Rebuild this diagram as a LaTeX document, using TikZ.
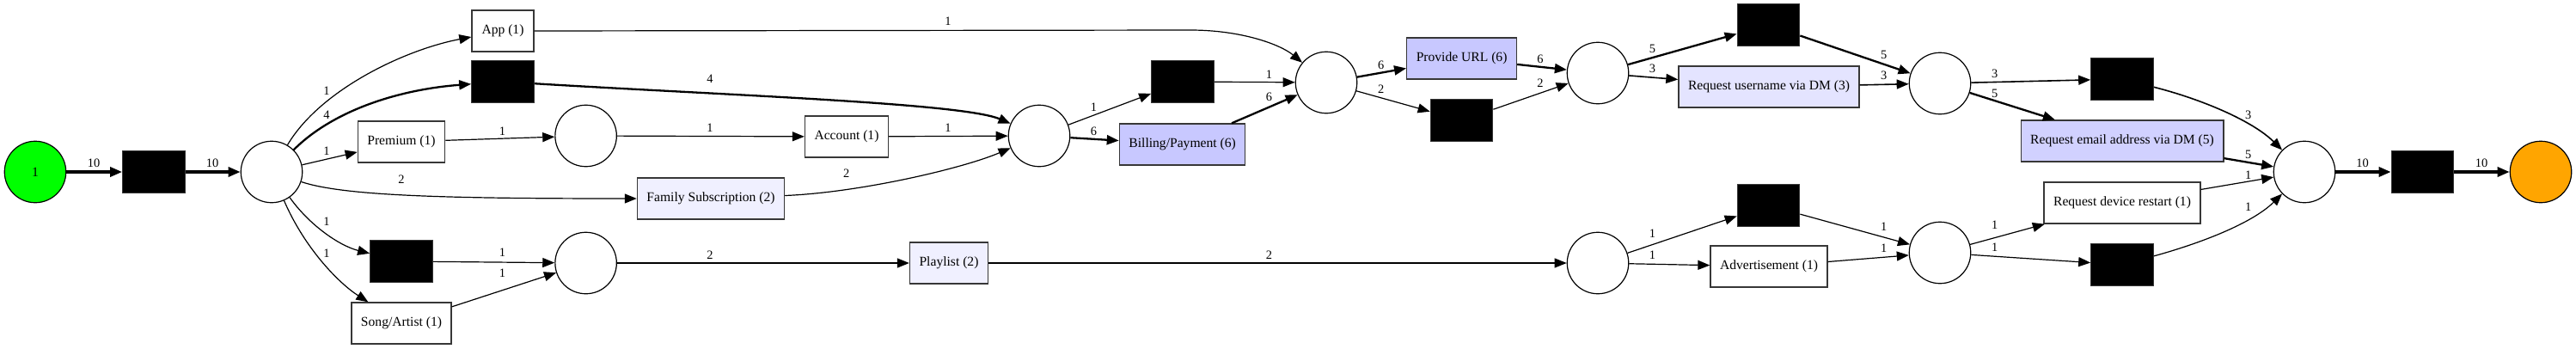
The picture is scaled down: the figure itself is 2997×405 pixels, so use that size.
\documentclass[tikz,border=0pt]{standalone}
\usepackage{fontspec}
\setmainfont{Liberation Serif}
\usetikzlibrary{arrows.meta}
\definecolor{fsix}{RGB}{200,200,255}
\definecolor{ffive}{RGB}{209,209,255}
\definecolor{fthree}{RGB}{228,228,255}
\definecolor{ftwo}{RGB}{240,240,255}
\definecolor{bgray}{RGB}{55,55,55}
\definecolor{srcgreen}{RGB}{0,255,0}
\definecolor{sinkorange}{RGB}{255,165,0}
\newcommand\myNodeFont{\fontsize{15.6}{18}\selectfont}
\newcommand\myLabFont{\fontsize{14.4}{16}\selectfont}
\tikzset{
  place/.style={circle,draw=black,line width=1.2pt,minimum size=71.5pt,inner sep=0pt,font=\myNodeFont},
  trans/.style={rectangle,draw=bgray,line width=1.4pt,minimum width=72pt,minimum height=48pt,inner xsep=11pt,inner ysep=0pt,font=\myNodeFont},
  silent/.style={rectangle,draw=bgray,fill=black,line width=1.2pt,minimum width=72.5pt,minimum height=48.5pt,inner sep=0pt},
  arc/.style={-{Triangle[length=14pt,width=11pt]},line width=1.2pt},
  arcM/.style={arc,line width=1.6pt},
  arcT/.style={arc,line width=2.3pt},
  arcX/.style={arc,line width=3.3pt},
  lab/.style={font=\myLabFont,inner sep=0pt}
}
\begin{document}
\begin{tikzpicture}[x=1pt,y=-1pt]
\useasboundingbox (0,0) rectangle (2997,405);
% nodes
\node[place,fill=srcgreen] (src) at (41,200) {1};
\node[silent] (b1) at (179,200) {};
\node[place] (p1) at (316,200) {};
\node[trans] (app) at (585,36) {App (1)};
\node[silent] (b2) at (585,95) {};
\node[trans] (prem) at (467,165) {Premium (1)};
\node[trans,fill=ftwo] (fam) at (827,231) {Family Subscription (2)};
\node[silent] (b3) at (467,304) {};
\node[trans] (song) at (467,376) {Song/Artist (1)};
\node[place] (p2) at (681.6,158) {};
\node[place] (p3) at (681.6,306) {};
\node[trans] (acc) at (985,159) {Account (1)};
\node[place] (p4) at (1209,158) {};
\node[silent] (b4) at (1376,95) {};
\node[trans,fill=fsix] (bill) at (1375.6,168) {Billing/Payment (6)};
\node[trans,fill=ftwo] (play) at (1104,306) {Playlist (2)};
\node[place] (p5) at (1543,96) {};
\node[trans,fill=fsix] (url) at (1700.6,68) {Provide URL (6)};
\node[silent] (b5) at (1700.5,140) {};
\node[place] (p6) at (1859,85) {};
\node[silent] (b6) at (2057.5,29) {};
\node[trans,fill=fthree] (ruser) at (2058,101) {Request username via DM (3)};
\node[place] (p7) at (1859,306) {};
\node[silent] (b7) at (2057.5,239) {};
\node[trans] (adv) at (2058,310) {Advertisement (1)};
\node[place] (p8) at (2257,97) {};
\node[silent] (b8) at (2469,92) {};
\node[trans,fill=ffive] (remail) at (2469,164) {Request email address via DM (5)};
\node[trans] (rdev) at (2469,236) {Request device restart (1)};
\node[place] (p9) at (2257,294) {};
\node[silent] (b9) at (2469,308) {};
\node[place] (p10) at (2681,200) {};
\node[silent] (b10) at (2818.5,200) {};
\node[place,fill=sinkorange] (sink) at (2956,200) {};
% arcs
\draw[arcX] (src) -- (b1) node[lab] at (109,190) {10};
\draw[arcX] (b1) -- (p1) node[lab] at (247,190) {10};
\draw[arc] (p1) .. controls (372,105) and (470,58) .. (app) node[lab] at (380,106) {1};
\draw[arcT] (p1) .. controls (388,128) and (465,104) .. (b2) node[lab] at (380,134) {4};
\draw[arc] (p1) -- (prem) node[lab] at (380,176) {1};
\draw[arc] (p1) .. controls (400,228) and (520,231) .. (fam) node[lab] at (467,209) {2};
\draw[arc] (p1) .. controls (360,262) and (395,286) .. (b3) node[lab] at (380,258) {1};
\draw[arc] (p1) .. controls (355,290) and (395,330) .. (song) node[lab] at (380,295) {1};
\draw[arc] (app.east) -- (1385,35) .. controls (1445,35) and (1490,52) .. (p5) node[lab] at (1103,25) {1};
\draw[arcT] (b2) .. controls (850,111) and (1120,120) .. (p4) node[lab] at (826,92) {4};
\draw[arc] (prem) -- (p2) node[lab] at (584.5,153) {1};
\draw[arc] (p2) -- (acc) node[lab] at (826,149) {1};
\draw[arc] (acc) -- (p4) node[lab] at (1103,149) {1};
\draw[arc] (fam) .. controls (1000,224) and (1120,196) .. (p4) node[lab] at (984.6,202) {2};
\draw[arc] (b3) -- (p3) node[lab] at (584.5,294) {1};
\draw[arc] (song) -- (p3) node[lab] at (584.5,318) {1};
\draw[arc] (p3) -- (play) node[lab] at (826,297) {2};
\draw[arc] (p4) -- (b4) node[lab] at (1272.5,125) {1};
\draw[arcT] (p4) -- (bill) node[lab] at (1272.5,153) {6};
\draw[arc] (b4) -- (p5) node[lab] at (1476.5,87) {1};
\draw[arcT] (bill) -- (p5) node[lab] at (1476.5,113) {6};
\draw[arcT] (p5) -- (url) node[lab] at (1606.6,76) {6};
\draw[arc] (p5) -- (b5) node[lab] at (1606.6,104) {2};
\draw[arcT] (url) -- (p6) node[lab] at (1792,69) {6};
\draw[arc] (b5) -- (p6) node[lab] at (1792,97) {2};
\draw[arcT] (p6) -- (b6) node[lab] at (1922.4,57) {5};
\draw[arcM] (p6) -- (ruser) node[lab] at (1922.4,80) {3};
\draw[arc] (play) -- (p7) node[lab] at (1476.5,297) {2};
\draw[arc] (p7) -- (b7) node[lab] at (1922.4,272) {1};
\draw[arc] (p7) -- (adv) node[lab] at (1922.4,297) {1};
\draw[arcT] (b6) -- (p8) node[lab] at (2191.6,64) {5};
\draw[arcM] (ruser) -- (p8) node[lab] at (2191.6,88) {3};
\draw[arc] (b7) -- (p9) node[lab] at (2191.6,264) {1};
\draw[arc] (adv) -- (p9) node[lab] at (2191.6,289) {1};
\draw[arcM] (p8) -- (b8) node[lab] at (2320.7,86) {3};
\draw[arcT] (p8) -- (remail) node[lab] at (2320.7,109) {5};
\draw[arc] (p9) -- (rdev) node[lab] at (2320.7,262) {1};
\draw[arc] (p9) -- (b9) node[lab] at (2320.7,288) {1};
\draw[arcM] (b8) .. controls (2560,115) and (2620,140) .. (p10) node[lab] at (2615.6,134) {3};
\draw[arcT] (remail) -- (p10) node[lab] at (2615.6,180) {5};
\draw[arc] (rdev) -- (p10) node[lab] at (2615.6,204) {1};
\draw[arc] (b9) .. controls (2560,283) and (2620,260) .. (p10) node[lab] at (2615.6,241) {1};
\draw[arcX] (p10) -- (b10) node[lab] at (2748.5,190) {10};
\draw[arcX] (b10) -- (sink) node[lab] at (2887,190) {10};
\end{tikzpicture}
\end{document}
